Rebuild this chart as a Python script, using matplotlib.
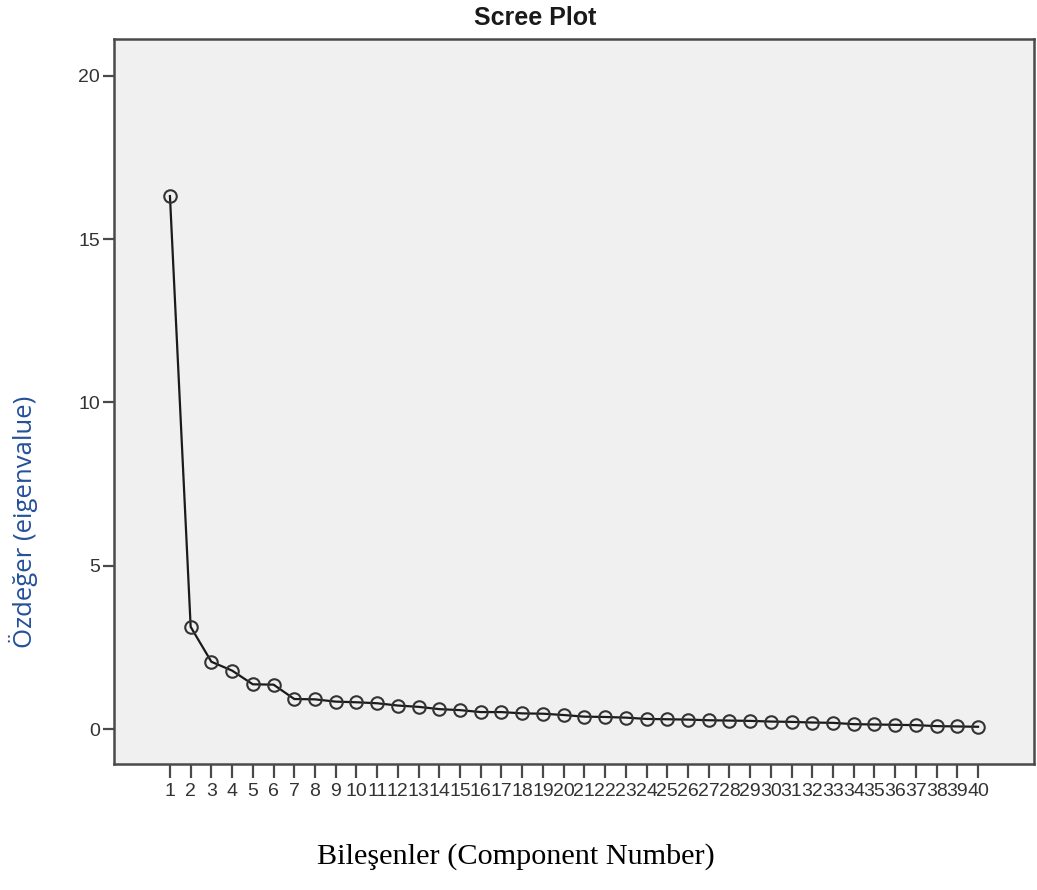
import matplotlib
matplotlib.use('Agg')
import matplotlib.pyplot as plt

# eigenvalues
components = list(range(1, 41))
eigenvalues = [16.32, 3.13, 2.06, 1.79, 1.37, 1.36, 0.92, 0.91, 0.84, 0.82,
               0.79, 0.72, 0.68, 0.61, 0.58, 0.52, 0.52, 0.48, 0.47, 0.43,
               0.38, 0.37, 0.35, 0.31, 0.30, 0.29, 0.27, 0.26, 0.25, 0.23,
               0.22, 0.20, 0.19, 0.15, 0.14, 0.13, 0.12, 0.09, 0.08, 0.07]
y_ticks = [0, 5, 10, 15, 20]

SPINE = '#4a4a4a'
TICK_TEXT = '#333333'
TICK_FONT = 'Liberation Sans'
tick_size = 14

fig = plt.figure(figsize=(10.37, 8.90), dpi=100)
fig.patch.set_facecolor('white')
ax = fig.add_axes([114/1037, 1 - 764/890, 920/1037, 725/890])
ax.set_facecolor('#F0F0F0')

ax.plot(components, eigenvalues, color='#1a1a1a', linewidth=1.6,
        marker='o', markersize=9, markerfacecolor='none',
        markeredgecolor='#333333', markeredgewidth=1.5, zorder=3)

ax.set_xlim(-1.7, 42.7)
ax.set_ylim(-1.07, 21.13)
ax.set_xticks(components)
ax.set_xticklabels([str(c) for c in components])
ax.set_yticks(y_ticks)

for s in ax.spines.values():
    s.set_color(SPINE)
    s.set_linewidth(1.8)

ax.tick_params(axis='x', length=10, width=1.6, color=SPINE, pad=4,
               labelsize=tick_size, labelcolor=TICK_TEXT)
ax.tick_params(axis='y', length=8, width=1.6, color=SPINE, pad=2,
               labelsize=tick_size, labelcolor=TICK_TEXT)
for lbl in ax.get_xticklabels() + ax.get_yticklabels():
    lbl.set_fontfamily(TICK_FONT)

fig.text(535/1037, 1 - 18/890, 'Scree Plot', fontsize=18, fontweight='bold',
         ha='center', va='center', color='#1a1a1a', family='Liberation Sans')
fig.text(23/1037, 1 - 522/890, 'Özdeğer (eigenvalue)', rotation=90,
         fontsize=18.5, ha='center', va='center', color='#24509A',
         family='Open Sans')
fig.text(516/1037, 1 - 857/890, 'Bileşenler (Component Number)',
         fontsize=21.8, ha='center', va='center', color='black',
         family='Liberation Serif')

plt.savefig('out.png', dpi=100, facecolor='white')
plt.close()
